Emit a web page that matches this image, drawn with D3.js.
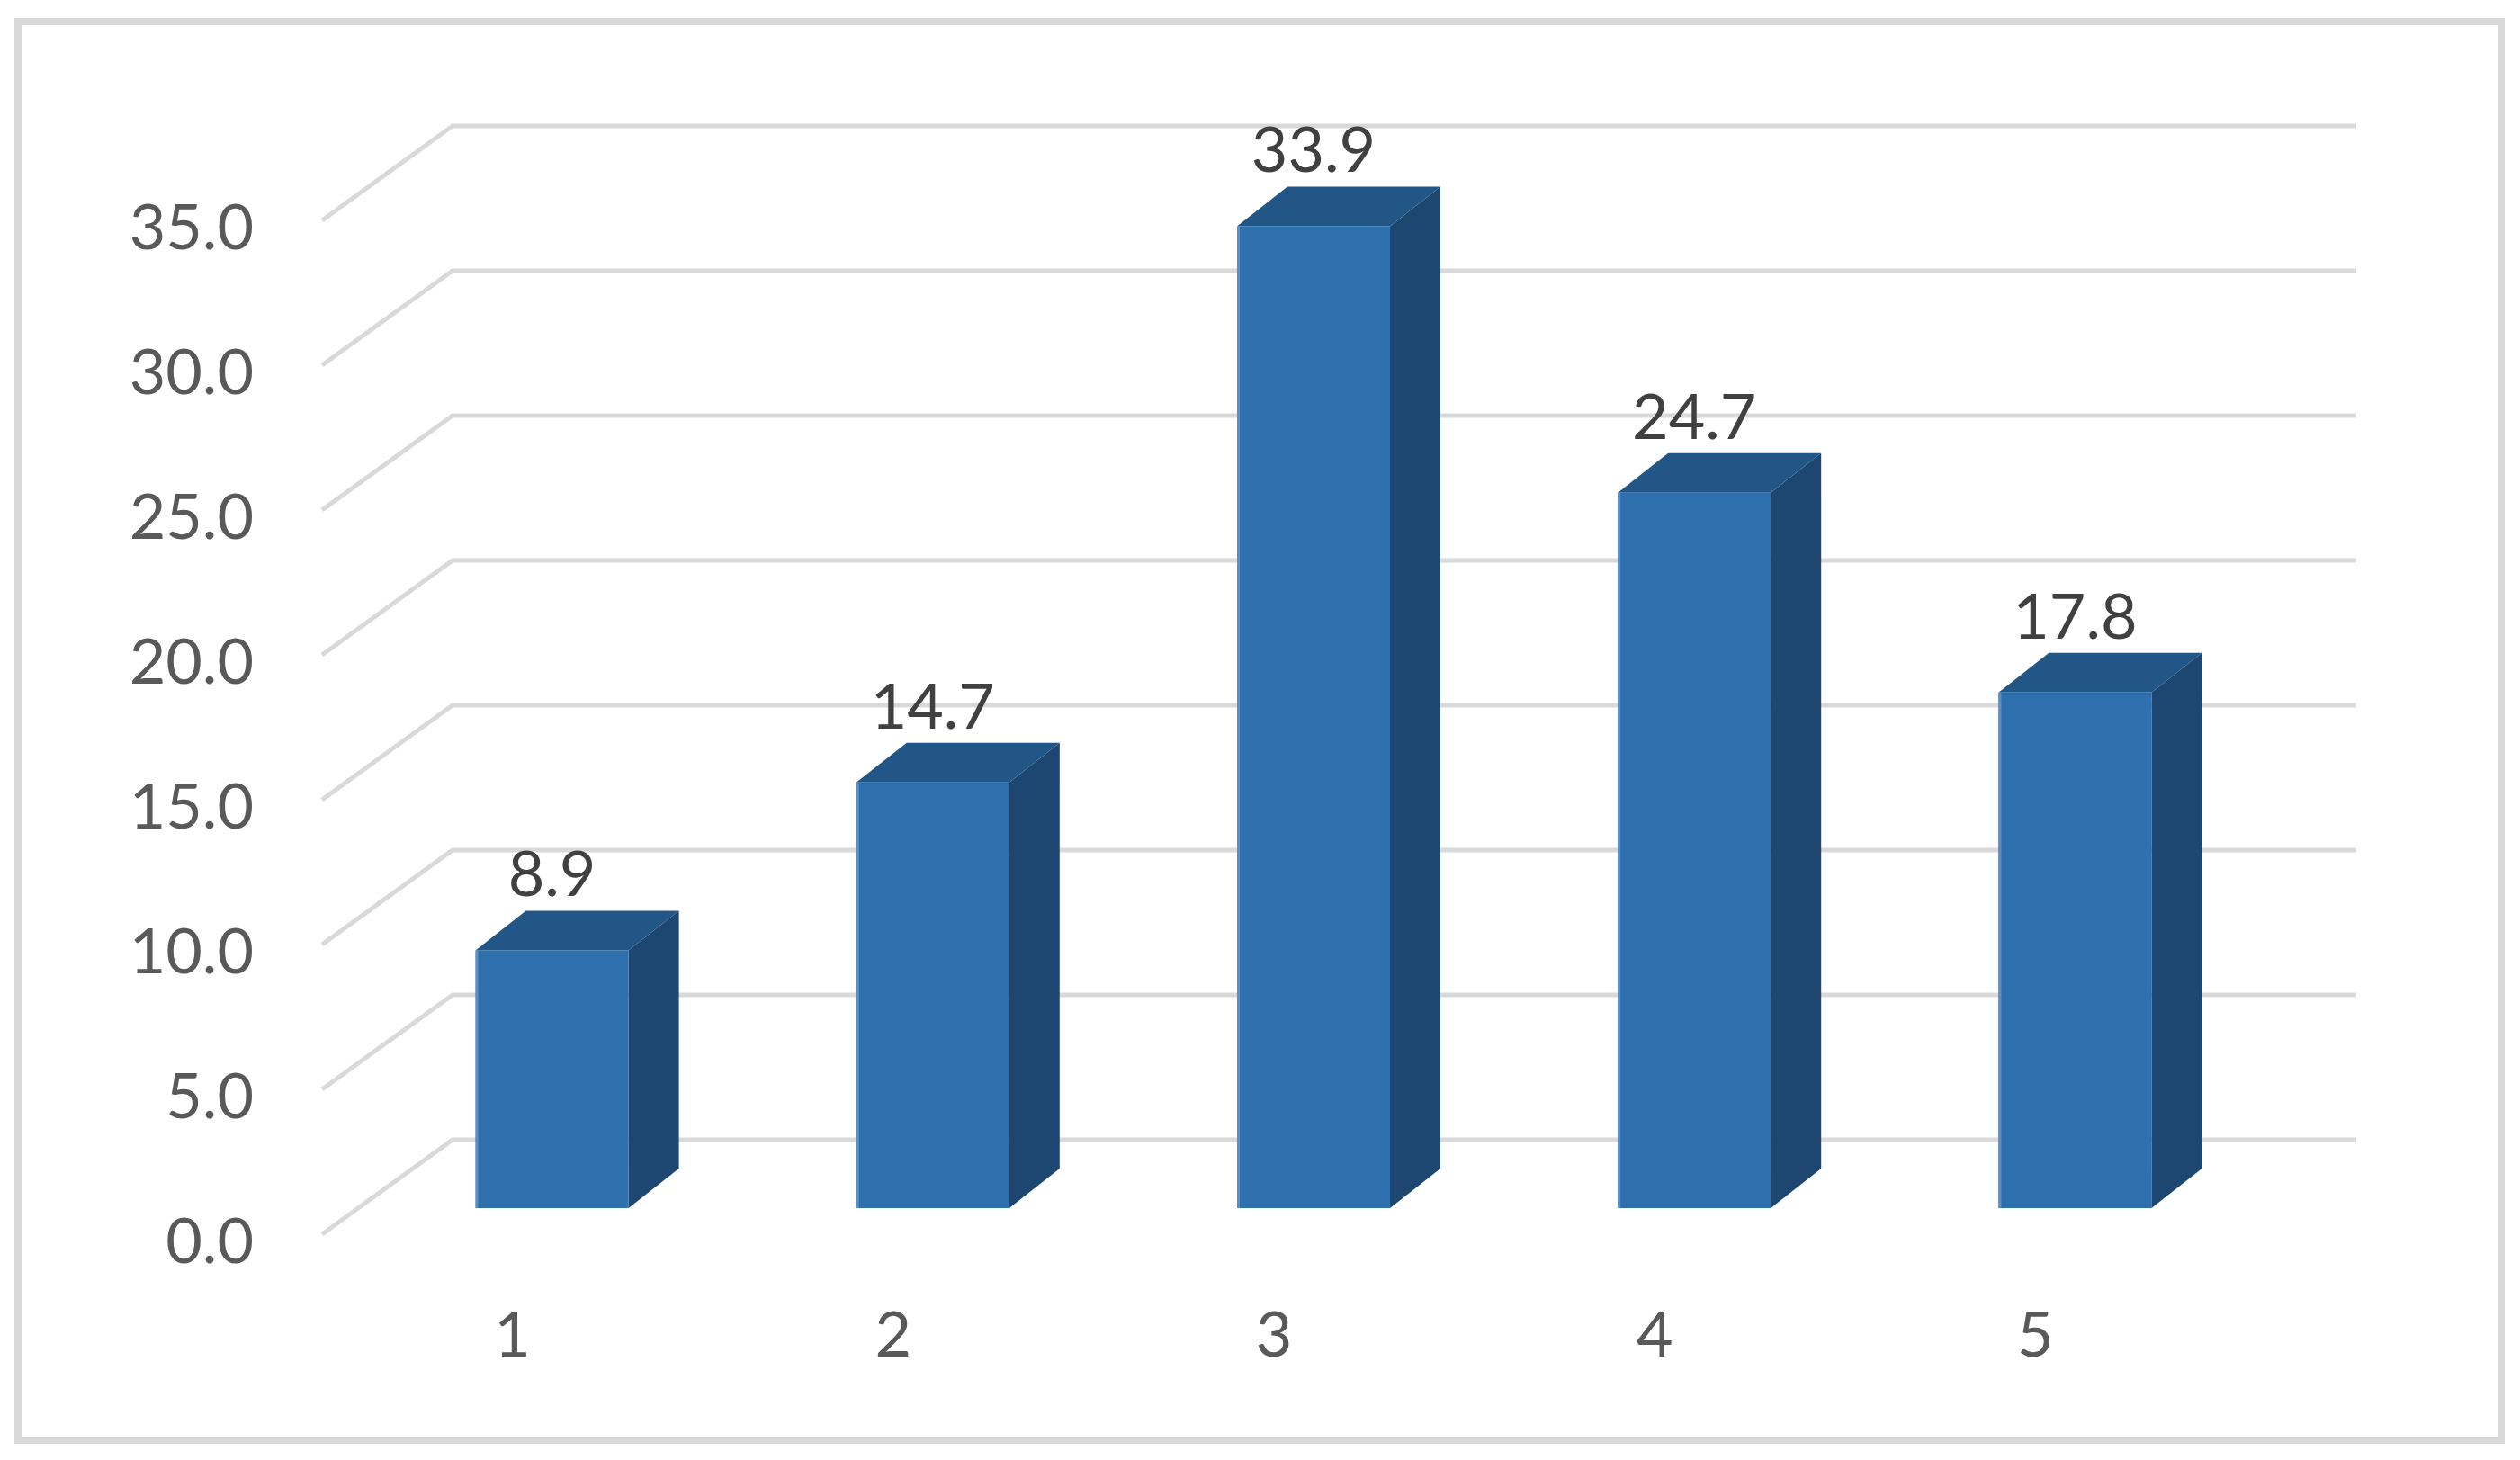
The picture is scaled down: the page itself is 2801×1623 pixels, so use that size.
<!DOCTYPE html>
<html>
<head>
<meta charset="utf-8">
<script src="https://cdn.jsdelivr.net/npm/d3@7"></script>
<style>
  body { margin: 0; background: #fff; }
  text { font-family: Lato, "Open Sans", sans-serif; }
</style>
</head>
<body>
<div id="chart"></div>
<script>
var categories = ["1", "2", "3", "4", "5"];
var values = [8.9, 14.7, 33.9, 24.7, 17.8];
var yTicks = [0, 5, 10, 15, 20, 25, 30, 35];

var svgWidth = 2801;
var svgHeight = 1623;

// 3D geometry of the Excel-style chart
var wallDx = 145, wallDy = 105;      // side wall depth
var barDx = 56, barDy = 44;          // bar depth
var frontOffX = 44, frontOffY = 29;  // bar front face set back from floor front
var barWidth = 170;

var svg = d3.select("#chart")
  .append("svg")
  .attr("width", svgWidth)
  .attr("height", svgHeight);

svg.append("rect")
  .attr("x", 20).attr("y", 24)
  .attr("width", 2760).attr("height", 1577)
  .attr("fill", "#fff")
  .attr("stroke", "#d9d9d9")
  .attr("stroke-width", 8);

// back wall scale
var yScale = d3.scaleLinear()
  .domain([0, 35])
  .range([1267, 140]);

// category scale along the front edge of the floor
var xScale = d3.scaleBand()
  .domain(categories)
  .range([358, 2474]);

var backLeft = 358 + wallDx;
var backRight = 2474 + wallDx;

// gridlines: diagonal on side wall + line on back wall
var grid = svg.append("g");
yTicks.forEach(function(t) {
  var yb = yScale(t);
  grid.append("polyline")
    .attr("points", [[backLeft - wallDx, yb + wallDy], [backLeft, yb], [backRight, yb]].join(" "))
    .attr("fill", "none")
    .attr("stroke", "#d9d9d9")
    .attr("stroke-width", 5);
});

// y tick labels
svg.append("g").selectAll("text")
  .data(yTicks)
  .enter()
  .append("text")
  .attr("x", 282)
  .attr("y", d => yScale(d) + wallDy + 32)
  .attr("text-anchor", "end")
  .attr("font-size", "70px")
  .attr("fill", "#595959")
  .text(d => d.toFixed(1));

// x category labels
svg.append("g").selectAll("text")
  .data(categories)
  .enter()
  .append("text")
  .attr("x", d => xScale(d) + xScale.bandwidth() / 2)
  .attr("y", 1508)
  .attr("text-anchor", "middle")
  .attr("font-size", "70px")
  .attr("fill", "#595959")
  .text(d => d);

// bars
var bars = svg.append("g").selectAll("g")
  .data(values)
  .enter()
  .append("g");

function x0(d, i) { return xScale(categories[i]) + xScale.bandwidth() / 2 + frontOffX - barWidth / 2; }
function yTop(d) { return yScale(d) + wallDy - frontOffY; }
var yBot = yScale(0) + wallDy - frontOffY;

bars.append("polygon")
  .attr("points", function(d, i) {
    var a = x0(d, i), b = a + barWidth, t = yTop(d);
    return [[b, t], [b + barDx, t - barDy], [b + barDx, yBot - barDy], [b, yBot]].join(" ");
  })
  .attr("fill", "#1d4770");

bars.append("polygon")
  .attr("points", function(d, i) {
    var a = x0(d, i), b = a + barWidth, t = yTop(d);
    return [[a, t], [a + barDx, t - barDy], [b + barDx, t - barDy], [b, t]].join(" ");
  })
  .attr("fill", "#215686");

bars.append("rect")
  .attr("x", x0)
  .attr("y", yTop)
  .attr("width", barWidth)
  .attr("height", d => yBot - yTop(d))
  .attr("fill", "#2e6fad");

bars.append("rect")
  .attr("x", x0)
  .attr("y", yTop)
  .attr("width", 3)
  .attr("height", d => yBot - yTop(d))
  .attr("fill", "#5a8fc6");

// data labels
bars.append("text")
  .attr("x", (d, i) => x0(d, i) + barWidth / 2)
  .attr("y", d => yTop(d) - barDy - 16)
  .attr("text-anchor", "middle")
  .attr("font-size", "70px")
  .attr("fill", "#404040")
  .text(d => d.toFixed(1));
</script>
</body>
</html>
